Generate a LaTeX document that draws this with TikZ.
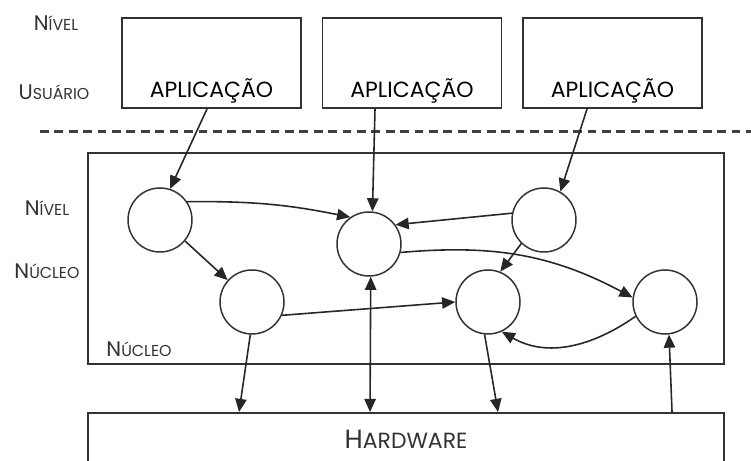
\documentclass[tikz,border=0pt]{standalone}
\usepackage{fontspec}
\setmainfont{Poppins}
\usetikzlibrary{arrows.meta}

% word in small capitals: first letter, then the rest in a smaller size
\newcommand\capw[4]{{\fontsize{#1}{#1}\selectfont #3}{\fontsize{#2}{#2}\selectfont #4}}

\tikzset{
  hd/.tip={Triangle[length=7.5pt,width=6.5pt]},
  layer/.style={draw=black!80, line width=1.1pt, inner sep=0pt},
  app/.style={layer, minimum width=3.58cm, text height=1.6cm, text depth=0.2cm},
  proc/.style={draw=black!80, circle, line width=0.85pt, minimum size=1.28cm, inner sep=0pt},
  arr/.style={-hd, line width=0.9pt, draw=black!85},
  tag/.style={inner sep=0pt, text=black!80}
}

\begin{document}
\begin{tikzpicture}
  \useasboundingbox (0,0) rectangle (15.02,9.22);

  % user level
  \node[tag] (nivU) at (1.12,8.76) {\capw{12}{9}{N}{ÍVEL}};
  \node[tag] (usu) at (1.08,7.38) {\capw{12}{9}{U}{SUÁRIO}};
  \node[app] (app1) at (4.23,7.96) {\capw{12.5}{12.5}{A}{PLICAÇÃO}};
  \node[app] (app2) at (8.24,7.96) {\capw{12.5}{12.5}{A}{PLICAÇÃO}};
  \node[app] (app3) at (12.25,7.96) {\capw{12.5}{12.5}{A}{PLICAÇÃO}};

  \draw[black!75, line width=1.4pt, dash pattern=on 5pt off 3.2pt] (0.8,6.59) -- (15.02,6.59);

  % kernel level
  \node[tag] (nivK) at (0.94,5.06) {\capw{12}{9}{N}{ÍVEL}};
  \node[tag] (nucK) at (0.94,3.8) {\capw{12}{9}{N}{ÚCLEO}};
  \node[layer, minimum width=12.72cm, minimum height=4.22cm] (kern) at (8.12,4.05) {};
  \node[tag] (nuc) at (2.78,2.24) {\capw{12}{9}{N}{ÚCLEO}};

  \node[proc] (c1) at (3.2,4.82) {};
  \node[proc] (c2) at (5.04,3.18) {};
  \node[proc] (c3) at (7.38,4.34) {};
  \node[proc] (c4) at (10.88,4.82) {};
  \node[proc] (c5) at (9.76,3.18) {};
  \node[proc] (c6) at (13.3,3.18) {};

  % hardware
  \node[layer, minimum width=12.72cm, minimum height=1.06cm, text=black!80] (hw) at (8.12,0.43)
        {\capw{15}{12.5}{H}{ARDWARE}};

  % calls into the kernel
  \draw[arr] ([xshift=-0.09cm]app1.south) -- (c1.72);
  \draw[arr] ([xshift=-0.74cm]app2.south) -- (c3.84);
  \draw[arr] ([xshift=-0.51cm]app3.south) -- (c4.60);

  % inside the kernel
  \draw[arr] (c1.34) to[bend left=6] (c3.125);
  \draw[arr] (c4.168) -- (c3.36);
  \draw[arr] (c1.-40) -- (c2.138);
  \draw[arr] (c3.-15) to[out=5, in=152] (c6.172);
  \draw[arr] (c4.-134) -- (c5.68);
  \draw[arr] (c2.-24) -- (c5.180);
  \draw[arr] (c6.206) to[out=215, in=-30] (c5.-65);

  % kernel <-> hardware
  \draw[arr] (c2.-93) -- ([xshift=3.04cm]hw.north west);
  \draw[arr, hd-hd] (c3.-87) -- ([xshift=5.66cm]hw.north west);
  \draw[arr] (c5.-96) -- ([xshift=8.22cm]hw.north west);
  \draw[arr] ([xshift=11.7cm]hw.north west) -- (c6.-83);
\end{tikzpicture}
\end{document}
